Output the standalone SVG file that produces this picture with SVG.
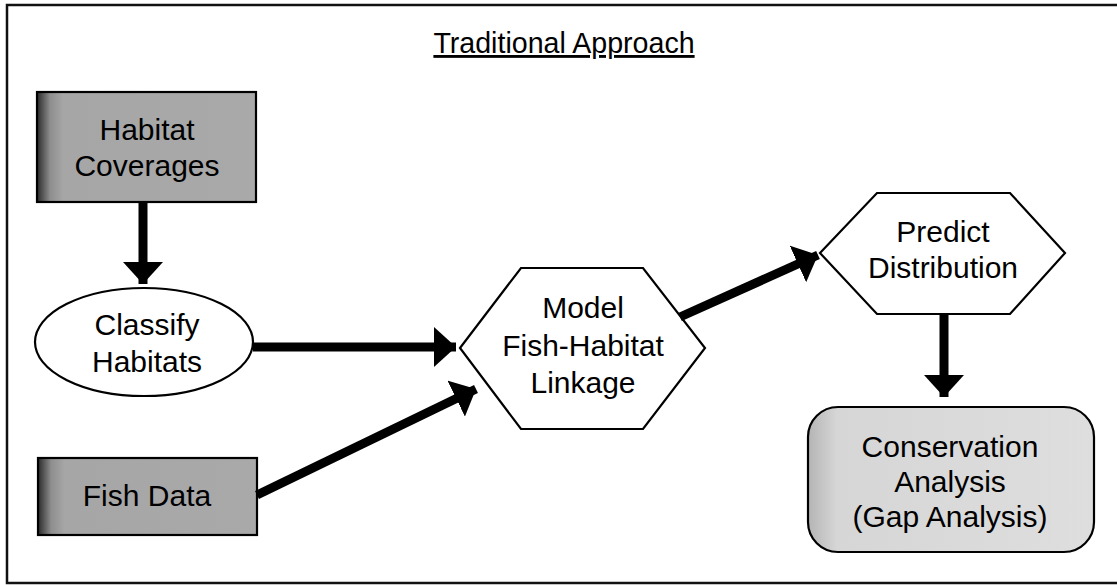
<svg xmlns="http://www.w3.org/2000/svg" width="1117" height="585" viewBox="0 0 1117 585">
<defs>
<linearGradient id="darkbox" x1="0" y1="0" x2="1" y2="0">
<stop offset="0" stop-color="#2a2a2a"/>
<stop offset="0.06" stop-color="#8e8e8e"/>
<stop offset="0.12" stop-color="#a6a6a6"/>
<stop offset="1" stop-color="#a9a9a9"/>
</linearGradient>
<linearGradient id="lightbox" x1="0" y1="0" x2="1" y2="0">
<stop offset="0" stop-color="#b4b4b4"/>
<stop offset="0.1" stop-color="#d6d6d6"/>
<stop offset="1" stop-color="#dedede"/>
</linearGradient>
<marker id="head" viewBox="0 0 22 40" refX="22" refY="20" markerWidth="22" markerHeight="40" markerUnits="userSpaceOnUse" orient="auto">
<path d="M0,0 L22,20 L0,40 Z" fill="#000"/>
</marker>
</defs>
<style>
.lbl{font-family:"Liberation Sans",Arial,sans-serif;font-size:30px;fill:#000;text-anchor:middle}
.node{stroke:#000;stroke-width:2.2}
.conn{stroke:#000;stroke-width:9;fill:none;marker-end:url(#head)}
</style>
<rect width="1117" height="585" fill="#fff"/>
<g id="frame">
<path d="M1117,5 L7,5 L7,583 L1117,583" fill="none" stroke="#111" stroke-width="2.5"/>
</g>
<g id="title">
<text x="564" y="53" font-family="Liberation Sans, Arial, sans-serif" font-size="28.6" text-anchor="middle" text-decoration="underline" fill="#000">Traditional Approach</text>
</g>
<g id="habitat-coverages">
<rect class="node" x="37" y="92" width="219" height="110" fill="url(#darkbox)"/>
<text class="lbl" x="147" y="140">Habitat</text>
<text class="lbl" x="147" y="176">Coverages</text>
</g>
<g id="classify-habitats">
<ellipse class="node" cx="144" cy="342" rx="109" ry="54" fill="#fff"/>
<text class="lbl" x="147" y="335">Classify</text>
<text class="lbl" x="147" y="372">Habitats</text>
</g>
<g id="fish-data">
<rect class="node" x="38" y="458" width="219" height="77" fill="url(#darkbox)"/>
<text class="lbl" x="147" y="506">Fish Data</text>
</g>
<g id="model-linkage">
<polygon class="node" points="460,348 521,268 643,268 705,348 643,429 521,429" fill="#fff"/>
<text class="lbl" x="583" y="318">Model</text>
<text class="lbl" x="583" y="356">Fish-Habitat</text>
<text class="lbl" x="583" y="393">Linkage</text>
</g>
<g id="predict-distribution">
<polygon class="node" points="820,253 877,193 1010,193 1065,253 1010,314 877,314" fill="#fff"/>
<text class="lbl" x="943" y="242">Predict</text>
<text class="lbl" x="943" y="278">Distribution</text>
</g>
<g id="conservation-analysis">
<rect class="node" x="808" y="407" width="286" height="145" rx="30" ry="30" fill="url(#lightbox)"/>
<text class="lbl" x="950" y="457">Conservation</text>
<text class="lbl" x="950" y="492">Analysis</text>
<text class="lbl" x="950" y="527">(Gap Analysis)</text>
</g>
<g id="connectors">
<line class="conn" x1="143" y1="202" x2="143" y2="284"/>
<line class="conn" x1="253" y1="347" x2="456" y2="347"/>
<line class="conn" x1="257" y1="495" x2="476" y2="389"/>
<line class="conn" x1="680" y1="317" x2="818" y2="255"/>
<line class="conn" x1="944" y1="314" x2="944" y2="397"/>
</g>
</svg>
